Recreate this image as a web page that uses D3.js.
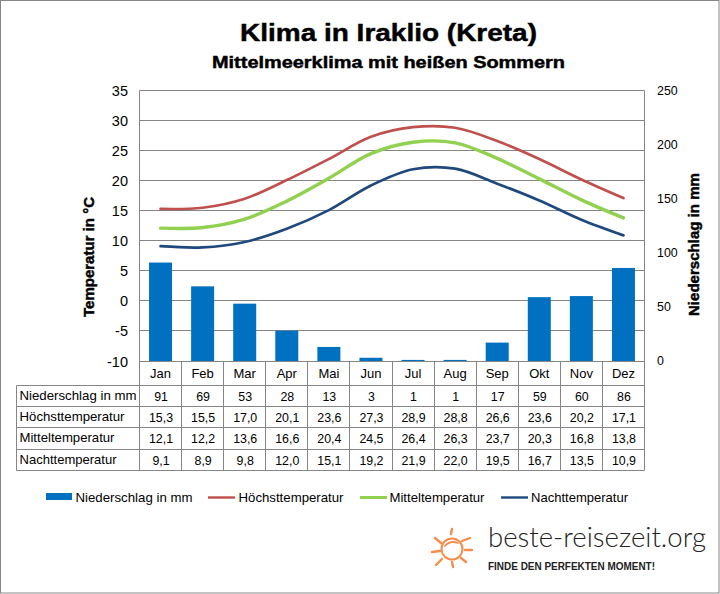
<!DOCTYPE html>
<html><head><meta charset="utf-8">
<script src="https://cdn.jsdelivr.net/npm/d3@7"></script>
<style>
html,body{margin:0;padding:0;background:#fff}
svg{display:block}
text{font-family:"Liberation Sans",Arial,sans-serif;fill:#000}
.heavy{stroke:#000;stroke-width:.45px}
</style></head><body>
<svg id="c" width="720" height="594"></svg>
<script>
const months=["Jan","Feb","Mar","Apr","Mai","Jun","Jul","Aug","Sep","Okt","Nov","Dez"];
const precip=[91,69,53,28,13,3,1,1,17,59,60,86];
const high=[15.3,15.5,17.0,20.1,23.6,27.3,28.9,28.8,26.6,23.6,20.2,17.1];
const mean=[12.1,12.2,13.6,16.6,20.4,24.5,26.4,26.3,23.7,20.3,16.8,13.8];
const night=[9.1,8.9,9.8,12.0,15.1,19.2,21.9,22.0,19.5,16.7,13.5,10.9];
const tempTicks=[-10,-5,0,5,10,15,20,25,30,35];
const precipTicks=[0,50,100,150,200,250];
const names=["Niederschlag in mm","Höchsttemperatur","Mitteltemperatur","Nachttemperatur"];
const nameWidths=[117,105,95,97];
const colors=["#0070c0","#c0504d","#92d050","#1f497d"];

const L=139.5,R=644.5,T=90.5,B=361;
const grid="#868686";
const svg=d3.select("#c");
const x=d3.scaleBand().domain(months).range([L,R]);
const yT=d3.scaleLinear().domain([-10,35]).range([B,T]);
const yP=d3.scaleLinear().domain([0,250]).range([B,T]);

svg.append("rect").attr("x",.5).attr("y",.5).attr("width",718.5).attr("height",592.5).attr("fill","#fff").attr("stroke",grid);

// titles
svg.append("text").attr("class","heavy").attr("x",388.5).attr("y",41).attr("text-anchor","middle").attr("font-size",24.5).attr("font-weight",700).attr("textLength",297).attr("lengthAdjust","spacingAndGlyphs").text("Klima in Iraklio (Kreta)");
svg.append("text").attr("class","heavy").attr("x",388.5).attr("y",68).attr("text-anchor","middle").attr("font-size",16.5).attr("font-weight",700).attr("textLength",353).attr("lengthAdjust","spacingAndGlyphs").text("Mittelmeerklima mit heißen Sommern");

// gridlines
svg.append("g").selectAll("line").data(tempTicks).join("line")
  .attr("x1",L).attr("x2",R).attr("y1",d=>Math.floor(yT(d))+.5).attr("y2",d=>Math.floor(yT(d))+.5)
  .attr("stroke",grid);
svg.append("line").attr("x1",L).attr("x2",L).attr("y1",T).attr("y2",B).attr("stroke",grid);
svg.append("line").attr("x1",R).attr("x2",R).attr("y1",T).attr("y2",B).attr("stroke",grid);

// bars
svg.append("g").selectAll("rect").data(precip).join("rect")
  .attr("x",(d,i)=>x(months[i])+x.bandwidth()/2-11.5).attr("width",23)
  .attr("y",d=>yP(d)).attr("height",d=>B-yP(d)).attr("fill",colors[0]);

// lines
const lineFn=d3.line().x((d,i)=>x(months[i])+x.bandwidth()/2).y(d=>yT(d)).curve(d3.curveCatmullRom.alpha(.5));
[[high,1],[mean,2],[night,3]].forEach(([s,c])=>{
  svg.append("path").attr("d",lineFn(s)).attr("fill","none").attr("stroke",colors[c]).attr("stroke-width",c===2?3.4:2.7).attr("stroke-linecap","round");
});

// left axis labels
svg.append("g").selectAll("text").data(tempTicks).join("text")
  .attr("x",128).attr("y",d=>yT(d)+5.5).attr("text-anchor","end").attr("font-size",14.5).text(d=>d);
// right axis labels
svg.append("g").selectAll("text").data(precipTicks).join("text")
  .attr("x",657).attr("y",d=>yP(d)+4).attr("font-size",12.4).text(d=>d);

// axis titles
svg.append("text").attr("class","heavy").attr("transform","translate(94,257) rotate(-90)").attr("text-anchor","middle").attr("font-size",15).attr("font-weight",700).attr("textLength",120).attr("lengthAdjust","spacingAndGlyphs").text("Temperatur in °C");
svg.append("text").attr("class","heavy").attr("transform","translate(698.5,244.5) rotate(-90)").attr("text-anchor","middle").attr("font-size",14.5).attr("font-weight",700).attr("textLength",143).attr("lengthAdjust","spacingAndGlyphs").text("Niederschlag in mm");

// table
const rowY=[385.5,406.5,427.5,449.5,470.5];
const labelBase=[400,421,442,464];
const valueBase=[401,422,443,465];
const tL=16.5;
const tg=svg.append("g");
const vx=d3.range(13).map(i=>L+i*x.bandwidth());
tg.selectAll("line.r").data(rowY).join("line").attr("class","r").attr("x1",tL).attr("x2",R).attr("y1",d=>d).attr("y2",d=>d).attr("stroke",grid);
tg.selectAll("line.v").data(vx).join("line").attr("class","v").attr("x1",d=>Math.round(d-.5)+.5).attr("x2",d=>Math.round(d-.5)+.5).attr("y1",B).attr("y2",470.5).attr("stroke",grid);
tg.append("line").attr("x1",tL).attr("x2",tL).attr("y1",385.5).attr("y2",470.5).attr("stroke",grid);
tg.selectAll("text.m").data(months).join("text").attr("class","m")
  .attr("x",d=>x(d)+x.bandwidth()/2).attr("y",378).attr("text-anchor","middle").attr("font-size",13).text(d=>d);
const fmt=v=>v.toFixed(1).replace(".",",");
const rows=[precip.map(String),high.map(fmt),mean.map(fmt),night.map(fmt)];
rows.forEach((r,ri)=>{
  tg.append("text").attr("x",19.5).attr("y",labelBase[ri]).attr("font-size",13).attr("textLength",nameWidths[ri]).attr("lengthAdjust","spacingAndGlyphs").text(names[ri]);
  tg.selectAll("text.d"+ri).data(r).join("text").attr("class","d"+ri)
    .attr("x",(d,i)=>x(months[i])+x.bandwidth()/2+.5).attr("y",valueBase[ri]).attr("text-anchor","middle").attr("font-size",12.4).text(d=>d);
});

// legend
const lg=svg.append("g");
lg.append("rect").attr("x",46).attr("y",493).attr("width",26).attr("height",7).attr("fill",colors[0]);
lg.append("text").attr("x",75.5).attr("y",502).attr("font-size",13).attr("textLength",117).attr("lengthAdjust","spacingAndGlyphs").text(names[0]);
[[208,238.5,1],[360,389.5,2],[501,531,3]].forEach(([a,t,c])=>{
  lg.append("line").attr("x1",a).attr("x2",a+27).attr("y1",497.5).attr("y2",497.5).attr("stroke",colors[c]).attr("stroke-width",c===2?3:2.4);
  lg.append("text").attr("x",t).attr("y",502).attr("font-size",13).attr("textLength",nameWidths[c]).attr("lengthAdjust","spacingAndGlyphs").text(names[c]);
});

// logo
const logo=svg.append("g").attr("stroke","#f58d4e").attr("fill","none").attr("stroke-linecap","round").attr("stroke-width",2.4);
logo.append("circle").attr("cx",452).attr("cy",549).attr("r",10.5).attr("stroke-width",2);
logo.append("path").attr("d","M445 546 Q450 540 458 543").attr("stroke-width",1.8);
[[452,529,451,534],[435,538,441,543],[462,541,470,538],[432,552,440,551],[465,550,472,550],[436,565,442,559],[452,562,453,567],[461,558,466,562]].forEach(s=>{
  logo.append("line").attr("x1",s[0]).attr("y1",s[1]).attr("x2",s[2]).attr("y2",s[3]);
});
svg.append("text").attr("x",488).attr("y",547).style("font-family","Lato, sans-serif").style("font-weight",300).style("fill","#222").attr("font-size",27).attr("textLength",218).attr("lengthAdjust","spacingAndGlyphs").text("beste-reisezeit.org");
svg.append("text").attr("x",488).attr("y",569.5).attr("font-size",10).attr("font-weight",700).attr("textLength",167).attr("lengthAdjust","spacingAndGlyphs").style("fill","#222").text("FINDE DEN PERFEKTEN MOMENT!");
</script>
</body></html>
